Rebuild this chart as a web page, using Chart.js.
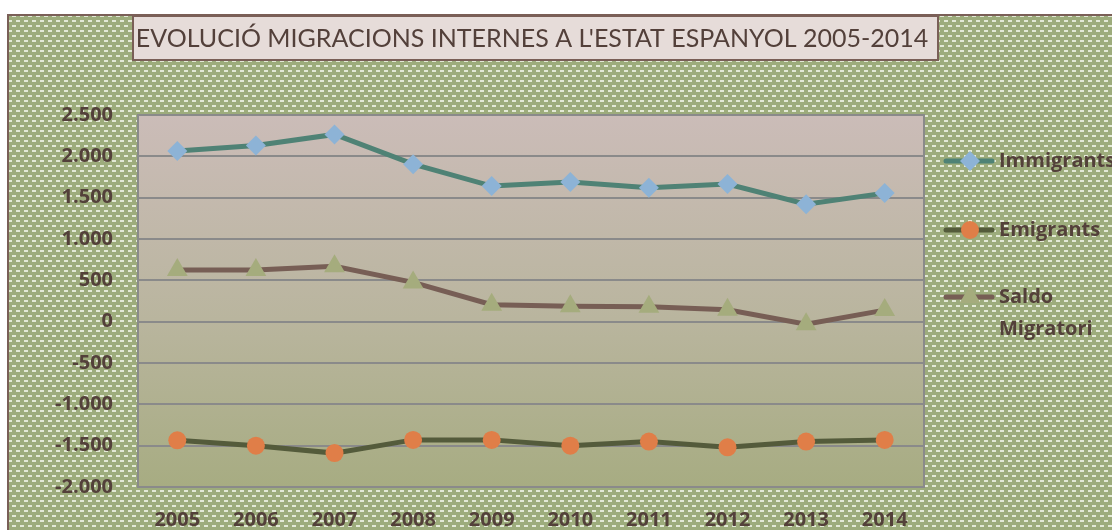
<!DOCTYPE html>
<html lang="ca">
<head>
  <meta charset="UTF-8">
  <title>Evolució migracions internes</title>
  <script src="https://cdn.jsdelivr.net/npm/chart.js"></script>
  <style>
    html, body { margin: 0; padding: 0; background: #fff; }
    #wrap { width: 1112px; height: 530px; position: relative; }
  </style>
</head>
<body>
  <div id="wrap"><canvas id="chart" width="1112" height="530"></canvas></div>

  <script>
// chart data
const years = ['2005', '2006', '2007', '2008', '2009', '2010', '2011', '2012', '2013', '2014'];
const immigrants = [2065, 2130, 2265, 1905, 1640, 1690, 1620, 1665, 1420, 1555];
const emigrants = [-1435, -1500, -1590, -1430, -1430, -1500, -1450, -1520, -1450, -1430];
const saldo = [625, 625, 670, 475, 205, 185, 180, 145, -30, 140];
const seriesNames = ['Immigrants', 'Emigrants', ['Saldo', 'Migratori']];
const yTicks = [-2000, -1500, -1000, -500, 0, 500, 1000, 1500, 2000, 2500];
const chartTitle = "EVOLUCIÓ MIGRACIONS INTERNES A L'ESTAT ESPANYOL 2005-2014";

const textColor = '#53403a';
const titleFont = 'Lato, "Open Sans", sans-serif';
const labelFont = '"Open Sans", Lato, sans-serif';

// background dotted pattern (green with white dashes)
function makePattern(ctx) {
  const c = document.createElement('canvas');
  c.width = 8; c.height = 10;
  const p = c.getContext('2d');
  p.fillStyle = '#9dac7c';
  p.fillRect(0, 0, 8, 10);
  p.fillStyle = '#e3e9d6';
  p.fillRect(0, 0, 4, 2);
  p.fillRect(4, 5, 4, 2);
  return ctx.createPattern(c, 'repeat');
}

function fmt(v) {
  const s = Math.abs(v).toString().replace(/\B(?=(\d{3})+(?!\d))/g, '.');
  return (v < 0 ? '-' : '') + s;
}

function drawMarker(ctx, style, r, x, y, color) {
  ctx.fillStyle = color;
  ctx.beginPath();
  if (style === 'rectRot') {
    ctx.moveTo(x, y - r); ctx.lineTo(x + r, y); ctx.lineTo(x, y + r); ctx.lineTo(x - r, y);
  } else if (style === 'triangle') {
    ctx.moveTo(x, y - r);
    ctx.lineTo(x + r * Math.sqrt(3) / 2, y + r / 2);
    ctx.lineTo(x - r * Math.sqrt(3) / 2, y + r / 2);
  } else {
    ctx.arc(x, y, r, 0, Math.PI * 2);
  }
  ctx.closePath();
  ctx.fill();
}

const backgroundPlugin = {
  id: 'bgPlugin',
  beforeDraw(chart) {
    const ctx = chart.ctx;
    const a = chart.chartArea;
    ctx.save();
    ctx.fillStyle = '#ffffff';
    ctx.fillRect(0, 0, chart.width, chart.height);
    // outer chart area
    ctx.fillStyle = makePattern(ctx);
    ctx.fillRect(8, 15, chart.width, chart.height);
    ctx.strokeStyle = '#7a5f57';
    ctx.lineWidth = 2;
    ctx.strokeRect(8, 15, chart.width + 10, chart.height + 10);
    // plot area gradient
    const g = ctx.createLinearGradient(0, a.top, 0, a.bottom);
    g.addColorStop(0, '#cbbcb8');
    g.addColorStop(0.55, '#b9b59e');
    g.addColorStop(1, '#a7ac82');
    ctx.fillStyle = g;
    ctx.fillRect(a.left, a.top, a.right - a.left, a.bottom - a.top);
    ctx.strokeStyle = '#8a8a8a';
    ctx.strokeRect(a.left, a.top, a.right - a.left, a.bottom - a.top);
    // title box
    ctx.fillStyle = '#e6dcd9';
    ctx.fillRect(133, 16, 805, 44);
    ctx.strokeStyle = '#7a5f57';
    ctx.lineWidth = 2;
    ctx.strokeRect(133, 16, 805, 44);
    ctx.fillStyle = textColor;
    ctx.font = '25px ' + titleFont;
    ctx.textAlign = 'center';
    ctx.textBaseline = 'middle';
    ctx.fillText(chartTitle, 532, 39);
    ctx.restore();
  },
  afterDraw(chart) {
    // legend on the right
    const ctx = chart.ctx;
    const rows = [161, 230, 297];
    ctx.save();
    chart.data.datasets.forEach((ds, i) => {
      const y = rows[i];
      ctx.strokeStyle = ds.borderColor;
      ctx.lineWidth = 5;
      ctx.lineCap = 'round';
      ctx.beginPath();
      ctx.moveTo(946, y);
      ctx.lineTo(992, y);
      ctx.stroke();
      drawMarker(ctx, ds.pointStyle, ds.pointRadius, 970, y, ds.pointBackgroundColor);
      ctx.fillStyle = textColor;
      ctx.font = 'bold 20px ' + labelFont;
      ctx.textAlign = 'left';
      ctx.textBaseline = 'middle';
      const lines = Array.isArray(seriesNames[i]) ? seriesNames[i] : [seriesNames[i]];
      lines.forEach((t, k) => ctx.fillText(t, 999, y + k * 32));
    });
    ctx.restore();
  }
};

new Chart(document.getElementById('chart'), {
  type: 'line',
  data: {
    labels: years,
    datasets: [
      {
        label: 'Immigrants',
        data: immigrants,
        borderColor: '#4f8275',
        borderWidth: 5,
        pointStyle: 'rectRot',
        pointRadius: 10,
        pointBackgroundColor: '#8db3d6',
        pointBorderWidth: 0,
        tension: 0
      },
      {
        label: 'Emigrants',
        data: emigrants,
        borderColor: '#545b3b',
        borderWidth: 5,
        pointStyle: 'circle',
        pointRadius: 9,
        pointBackgroundColor: '#e07e48',
        pointBorderWidth: 0,
        tension: 0
      },
      {
        label: 'Saldo Migratori',
        data: saldo,
        borderColor: '#775e55',
        borderWidth: 5,
        pointStyle: 'triangle',
        pointRadius: 12,
        pointBackgroundColor: '#a5ac7d',
        pointBorderWidth: 0,
        tension: 0
      }
    ]
  },
  options: {
    responsive: false,
    animation: false,
    layout: { padding: { left: 8, top: 115, right: 188, bottom: 0 } },
    plugins: {
      legend: { display: false },
      title: { display: false },
      tooltip: { enabled: false }
    },
    scales: {
      x: {
        offset: true,
        grid: { display: false, drawTicks: false },
        border: { display: false },
        ticks: {
          color: textColor,
          font: { family: labelFont, size: 20, weight: 'bold' },
          padding: 21,
          maxRotation: 0
        },
        afterFit(s) { s.height = 43; }
      },
      y: {
        min: -2000,
        max: 2500,
        afterBuildTicks(s) { s.ticks = yTicks.map(v => ({ value: v })); },
        grid: { color: '#8a8a8a', lineWidth: 2, drawTicks: false },
        border: { display: false },
        ticks: {
          color: textColor,
          font: { family: labelFont, size: 20, weight: 'bold' },
          padding: 25,
          callback: v => fmt(v)
        },
        afterFit(s) { s.width = 130; }
      }
    }
  },
  plugins: [backgroundPlugin]
});
  </script>
</body>
</html>
